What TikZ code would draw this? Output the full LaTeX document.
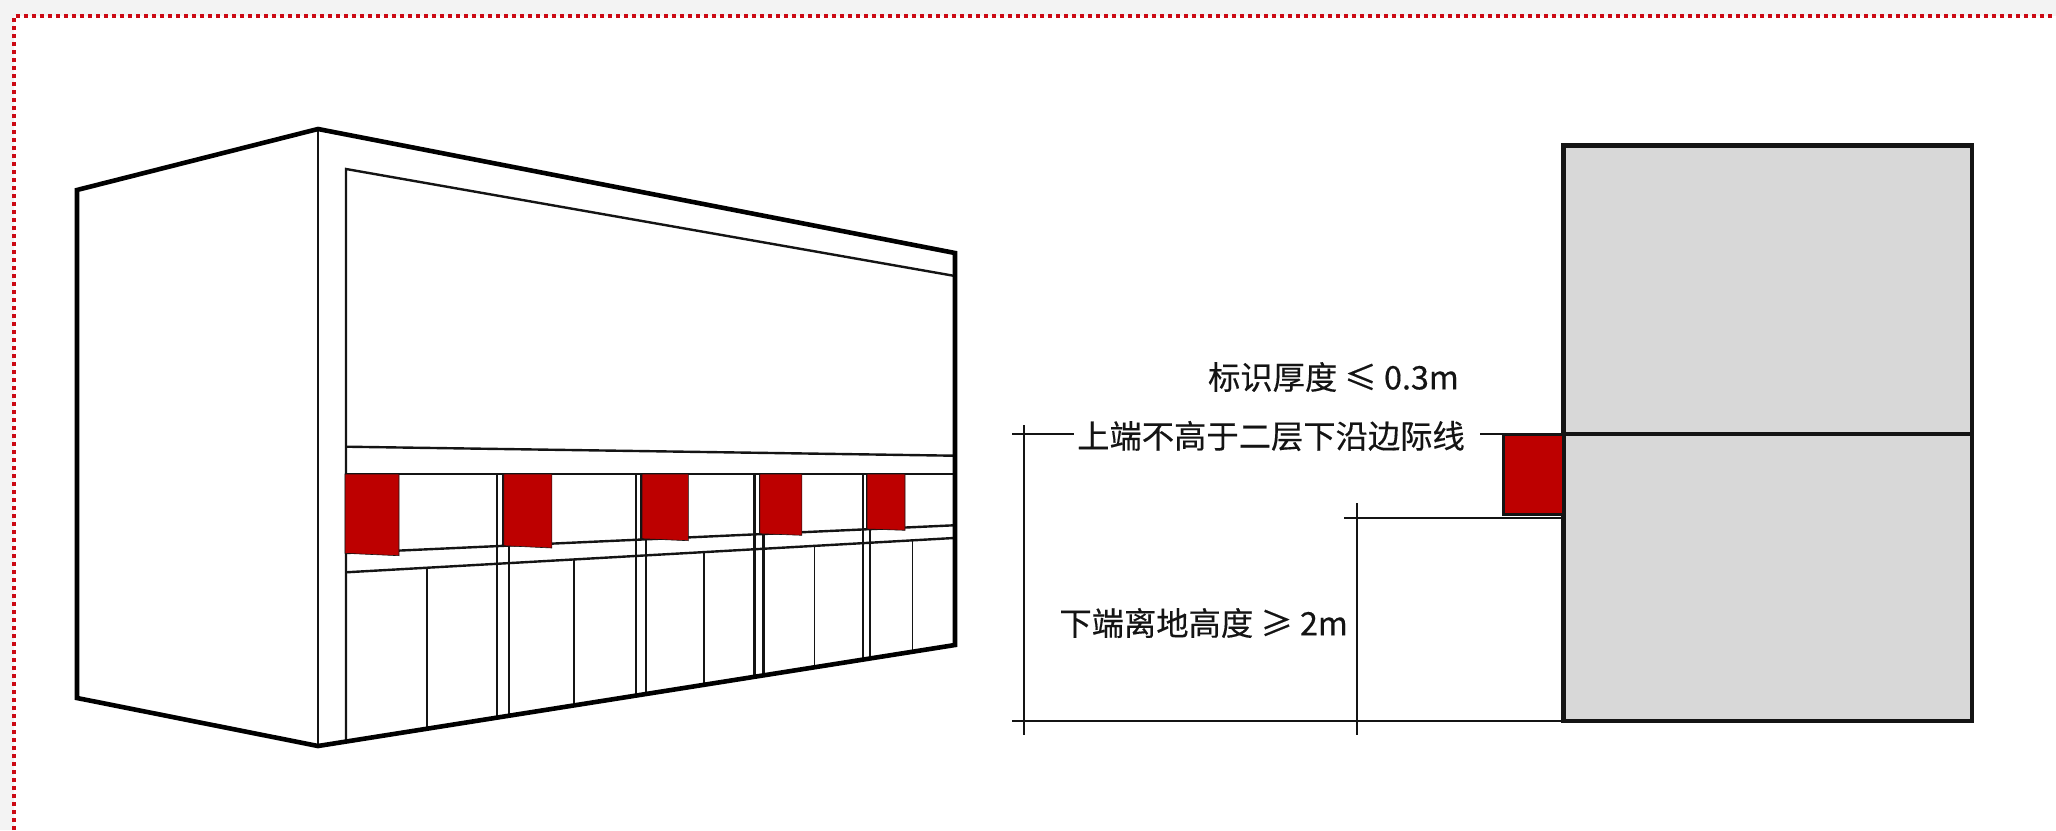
\documentclass[tikz,border=0pt]{standalone}
\usepackage{fontspec}
\setmainfont{Noto Sans CJK SC}[RawFeature={embolden=0.35}]
\usepackage{tikz}
\definecolor{signred}{HTML}{BD0000}
\definecolor{dotred}{HTML}{CC0A14}
\definecolor{wallgray}{HTML}{D8D8D8}
\definecolor{pagegray}{HTML}{F3F3F3}
\definecolor{ink}{HTML}{141414}

\begin{document}
\begin{tikzpicture}
	[x=1pt, y=-1pt,
	heavy/.style = {draw=black, line width=4.6pt, line join=miter},
	thin line/.style = {draw=ink, line width=2.4pt},
	mullion/.style = {draw=ink, line width=1.7pt},
	dim/.style = {draw=ink, line width=2pt},
	sign/.style = {fill=signred, draw=ink, line width=0.6pt},
	label/.style = {inner sep=0pt, font=\fontsize{32.3}{38}\selectfont, text=ink}]
	\useasboundingbox (0,0) rectangle (2056,830);
	\fill[pagegray] (0,0) rectangle (2056,830);
	\fill[white] (14,16) rectangle (2056,830);
	\draw[dotred, line width=3.6pt, dash pattern=on 3.6pt off 4.4pt] (14,830) -- (14,16) -- (2056,16);

	\coordinate (corner top) at (318,129);
	\coordinate (corner base) at (318,746);
	\draw[thin line] (corner top) -- (corner base);
	\draw[thin line] (346,742) -- (346,169) -- (955,276);
	\draw[thin line] (346,446.7) -- (954,455.7);
	\draw[thin line] (346,473.7) -- (954,473.7);
	\draw[thin line] (346,553) -- (954,525.3);
	\draw[thin line] (346,572.3) -- (954,538);

	\draw[thin line] (497,473.7) -- (497,717.6);
	\draw[thin line] (503.5,473.7) -- (503.5,546);
	\draw[thin line] (509,546) -- (509,715.7);
	\draw[thin line] (635.7,473.7) -- (635.7,695.6);
	\draw[thin line] (641.5,473.7) -- (641.5,539.3);
	\draw[thin line] (646.2,539.3) -- (646.2,694);
	\draw[thin line] (754.3,473.7) -- (754.3,676.8);
	\draw[thin line] (759.8,473.7) -- (759.8,534);
	\draw[thin line] (763.6,534) -- (763.6,675.4);
	\draw[thin line] (862.9,473.7) -- (862.9,659.6);
	\draw[thin line] (867.1,473.7) -- (867.1,529.3);
	\draw[thin line] (870.1,529.3) -- (870.1,658.5);

	\draw[mullion] (427.3,566.5) -- (427.3,728.7);
	\draw[mullion] (574.2,559) -- (574.2,705.4);
	\draw[mullion] (703.8,552) -- (703.8,684.8);
	\draw[mullion] (814.5,545.5) -- (814.5,667.3);
	\draw[mullion] (912.6,540.3) -- (912.6,651.7);

	\filldraw[sign] (345,474) -- (399,474) -- (399,555.7) -- (345,553.3) -- cycle;
	\filldraw[sign] (503.9,474) -- (551.9,474) -- (551.9,548) -- (503.9,545.7) -- cycle;
	\filldraw[sign] (642,474) -- (688.3,474) -- (688.3,540.7) -- (642,538.7) -- cycle;
	\filldraw[sign] (759.8,474) -- (801.9,474) -- (801.9,535.3) -- (759.8,533.7) -- cycle;
	\filldraw[sign] (867.1,474) -- (905,474) -- (905,530.3) -- (867.1,529) -- cycle;

	\draw[heavy] (77,190) -- (corner top) -- (955,253) -- (955,645) -- (corner base) -- (77,698) -- cycle;

	\coordinate (wall low) at (1563.5,721);
	\coordinate (wall floor) at (1563.5,434);
	\filldraw[fill=wallgray, draw=ink, line width=4.4pt] (1563.5,145.5) rectangle (1972,721);
	\draw[draw=ink, line width=4.4pt] (wall floor) -- (1972,434);
	\filldraw[fill=signred, draw=ink, line width=3pt] (1503,434) rectangle (1563.5,514.5);

	\node[label, anchor=east] (thick) at (1459,377) {标识厚度 ≤ 0.3m};
	\node[label, anchor=center] (upper) at (1271,436) {上端不高于二层下沿边际线};
	\node[label, anchor=east] (lower) at (1348,623) {下端离地高度 ≥ 2m};

	\coordinate (floor end) at (1012,434);
	\coordinate (sign top) at (1503,434);
	\draw[dim] (floor end) -- (1074,434);
	\draw[dim] (1480,434) -- (sign top);
	\draw[dim] (1024,425) -- (1024,735);
	\draw[dim] (1344,518) -- (1563,518);
	\draw[dim] (1357,503) -- (1357,735);
	\draw[dim] (1012,721) -- (wall low);
\end{tikzpicture}
\end{document}
